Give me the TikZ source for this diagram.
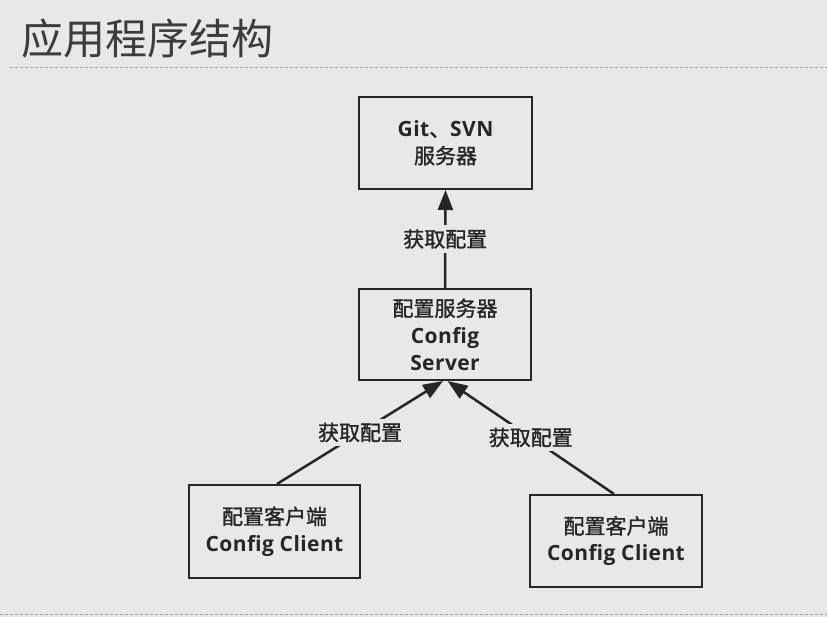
\documentclass[tikz,border=0pt]{standalone}
\usepackage{fontspec}
\usetikzlibrary{arrows.meta}
\newfontfamily\cjkf{Noto Sans CJK SC}
\newfontfamily\cjkm{Noto Sans CJK SC}[FakeBold=1.3]
\newfontfamily\latf{Open Sans}[LetterSpace=2]
\definecolor{bg}{HTML}{E8E8E8}
\definecolor{ink}{HTML}{262626}
\definecolor{titlec}{HTML}{3C3C3C}
\definecolor{sepc}{HTML}{A0A0A0}
\newcommand{\zh}[1]{{\cjkm #1}}
\newcommand{\en}[1]{{\latf\bfseries #1}}
\begin{document}
\begin{tikzpicture}[x=1pt,y=-1pt,
  box/.style={draw=ink,line width=2pt,inner sep=0pt,align=center,text=ink,
    font=\fontsize{21}{27}\selectfont},
  arr/.style={draw=ink,line width=2.5pt,-{Triangle[width=15pt,length=20pt]}},
  lbl/.style={fill=bg,text=ink,inner xsep=2pt,inner ysep=4pt,font=\cjkm\fontsize{21}{21}\selectfont},
  sepline/.style={draw=sepc,line width=1pt,dash pattern=on 3pt off 2pt}]
\fill[bg] (0,0) rectangle (827,617);
\useasboundingbox (0,0) rectangle (827,617);
\node[anchor=west,inner sep=0pt,text=titlec,font=\cjkf\fontsize{42}{42}\selectfont] (title) at (21,38.5) {应用程序结构};
\draw[sepline] (10,68) -- (827,68);
\draw[sepline] (0,614.5) -- (827,614.5);
\node[box,minimum width=173pt,minimum height=92pt] (git) at (445.5,143)
  {\en{Git}\zh{、}\en{SVN}\\\zh{服务器}};
\node[box,minimum width=172pt,minimum height=91pt] (cs) at (445,334.5)
  {\zh{配置服务器}\\\en{Config}\\\en{Server}};
\node[box,minimum width=171pt,minimum height=93pt] (cl1) at (274.5,531.5)
  {\zh{配置客户端}\\\en{Config Client}};
\node[box,minimum width=172pt,minimum height=92pt] (cl2) at (616,541)
  {\zh{配置客户端}\\\en{Config Client}};
\draw[arr] (cs.north) -- node[lbl]{获取配置} (git.south);
\draw[arr] ([xshift=2.5pt]cl1.north) -- node[lbl]{获取配置} ([xshift=-2pt]cs.south);
\draw[arr] ([xshift=-2pt]cl2.north) -- node[lbl]{获取配置} ([xshift=2.5pt]cs.south);
\end{tikzpicture}
\end{document}
